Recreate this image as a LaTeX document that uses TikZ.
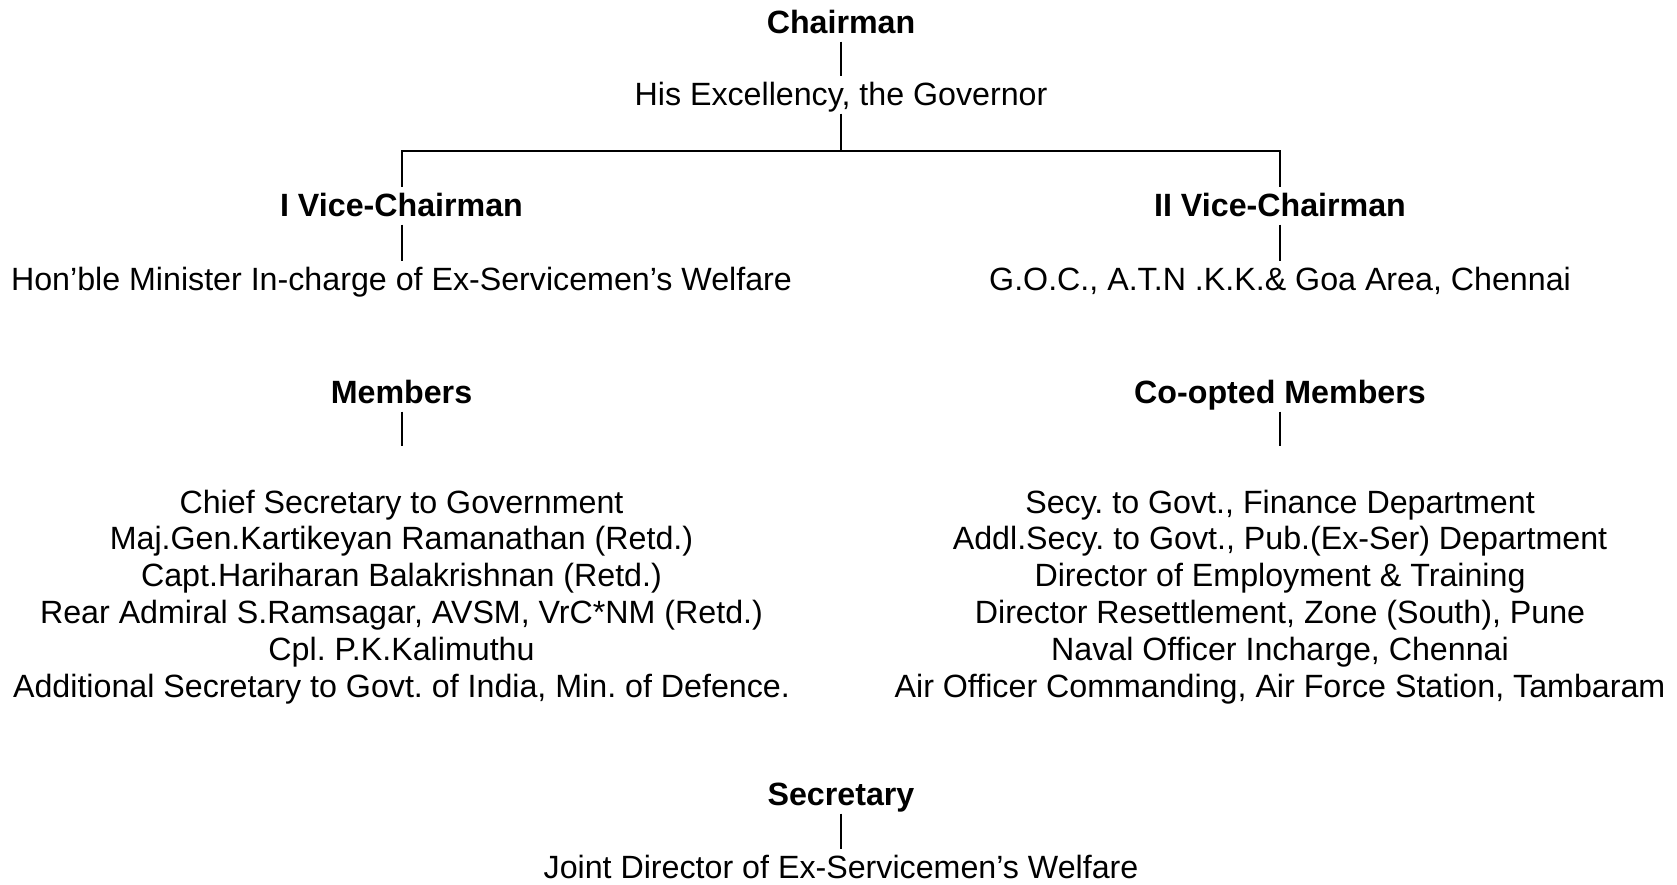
\documentclass[tikz,border=0pt]{standalone}
\usepackage{fontspec}
\setmainfont{Liberation Sans}
\frenchspacing
\tikzset{
  lbl/.style={inner xsep=0pt, inner ysep=6pt, text height=23pt, text depth=2.5pt,
              font=\fontsize{32.2pt}{36.8pt}\selectfont, anchor=base},
  head/.style={lbl, font=\fontsize{32.2pt}{36.8pt}\selectfont\bfseries},
  conn/.style={line width=2pt, draw=black}
}
\begin{document}
\begin{tikzpicture}[x=1pt, y=-1pt]
\useasboundingbox (0,0) rectangle (1677,884);

% top
\node[head] (chair) at (841,33) {Chairman};
\node[lbl]  (gov)   at (841,105) {His Excellency, the Governor};
\coordinate (bar) at (841,151);

% vice chairmen
\node[head] (vc1)  at (401.5,216) {I Vice-Chairman};
\node[lbl]  (vc1p) at (401.5,290) {Hon’ble Minister In-charge of Ex-Servicemen’s Welfare};
\node[head] (vc2)  at (1280,216) {II Vice-Chairman};
\node[lbl]  (vc2p) at (1280,290) {G.O.C., A.T.N .K.K.\& Goa Area, Chennai};

% members
\node[head] (mem) at (401.5,403) {Members};
\coordinate (memend) at (401.5,446);
\node[lbl] (m1) at (401.5,513.0) {Chief Secretary to Government};
\node[lbl] (m2) at (401.5,549.8) {Maj.Gen.Kartikeyan Ramanathan (Retd.)};
\node[lbl] (m3) at (401.5,586.6) {Capt.Hariharan Balakrishnan (Retd.)};
\node[lbl] (m4) at (401.5,623.4) {Rear Admiral S.Ramsagar, AVSM, VrC*NM (Retd.)};
\node[lbl] (m5) at (401.5,660.2) {Cpl. P.K.Kalimuthu};
\node[lbl] (m6) at (401.5,697.0) {Additional Secretary to Govt. of India, Min. of Defence.};

% co-opted members
\node[head] (com) at (1280,403) {Co-opted Members};
\coordinate (comend) at (1280,446);
\node[lbl] (c1) at (1280,513.0) {Secy. to Govt., Finance Department};
\node[lbl] (c2) at (1280,549.8) {Addl.Secy. to Govt., Pub.(Ex-Ser) Department};
\node[lbl] (c3) at (1280,586.6) {Director of Employment \& Training};
\node[lbl] (c4) at (1280,623.4) {Director Resettlement, Zone (South), Pune};
\node[lbl] (c5) at (1280,660.2) {Naval Officer Incharge, Chennai};
\node[lbl] (c6) at (1280,697.0) {Air Officer Commanding, Air Force Station, Tambaram};

% secretary
\node[head] (sec) at (841,805) {Secretary};
\node[lbl]  (jd)  at (841,878) {Joint Director of Ex-Servicemen’s Welfare};

% connectors
\draw[conn] (chair.south) -- (gov.north);
\draw[conn] (gov.south) -- (bar);
\draw[conn] (vc1.north) |- (bar) -| (vc2.north);
\draw[conn] (vc1.south) -- (vc1p.north);
\draw[conn] (vc2.south) -- (vc2p.north);
\draw[conn] (mem.south) -- (memend);
\draw[conn] (com.south) -- (comend);
\draw[conn] (sec.south) -- (jd.north);
\end{tikzpicture}
\end{document}
